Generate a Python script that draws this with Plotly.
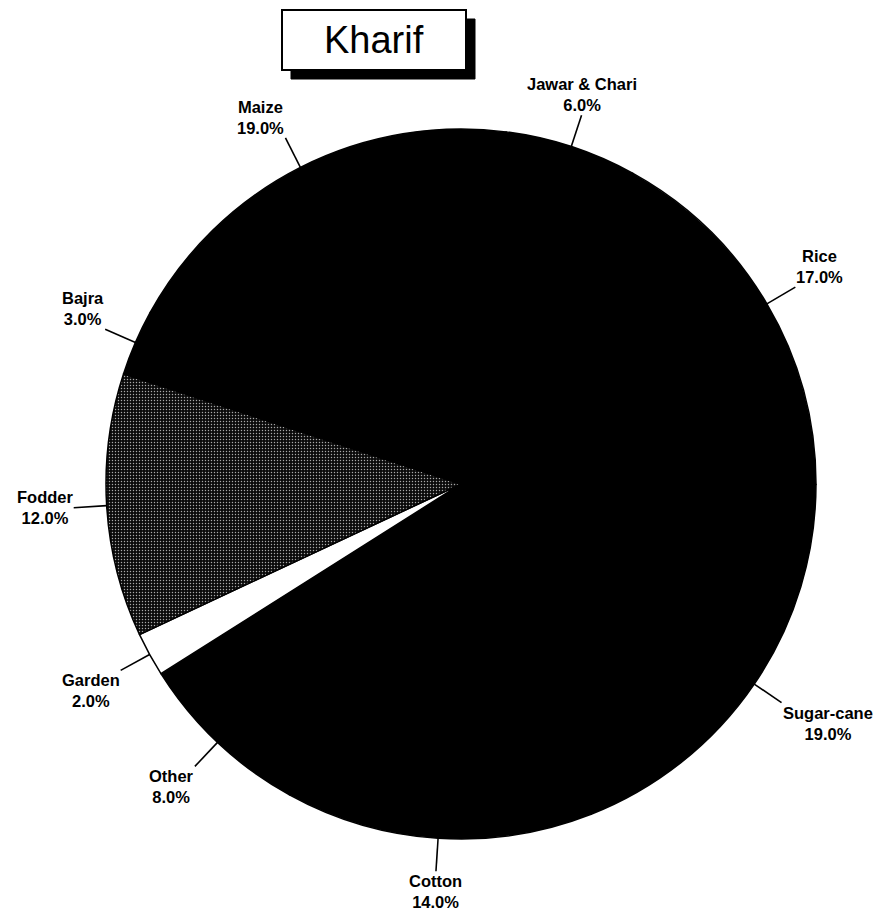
import math
import plotly.graph_objects as go

# Kharif crop area shares, listed clockwise starting just right of 12 o'clock
crops = ["Jawar & Chari", "Rice", "Sugar-cane", "Cotton", "Other",
         "Garden", "Fodder", "Bajra", "Maize"]
shares = [6, 17, 19, 14, 8, 2, 12, 3, 19]
slice_colors = ["#000000", "#000000", "#000000", "#000000", "#000000",
                "#ffffff", "#0a0a0a", "#000000", "#000000"]

W, H = 879, 919
CX, CY, R = 461, 484, 355          # pie centre and radius in pixels
ROTATION = 7.3                     # degrees clockwise from 12 o'clock
LEADER = 1.093                     # leader line outer end, as a fraction of R

fig = go.Figure()

# only the fodder slice carries a stipple fill
pat_shapes = ["." if c == "Fodder" else "" for c in crops]
pat_fg = ["#a8a8a8" if c == "Fodder" else "#000000" for c in crops]

fig.add_trace(go.Pie(
    labels=crops,
    values=shares,
    sort=False,
    direction="clockwise",
    rotation=ROTATION,
    textinfo="none",
    hoverinfo="label+percent",
    marker=dict(colors=slice_colors,
                line=dict(color="#000000", width=1.5),
                pattern=dict(shape=pat_shapes, fgcolor=pat_fg,
                             bgcolor=slice_colors,
                             size=3, solidity=0.18, fillmode="replace")),
    domain=dict(x=[(CX - R) / W, (CX + R) / W],
                y=[1 - (CY + R) / H, 1 - (CY - R) / H]),
    showlegend=False,
))


def px_to_paper(x, y):
    return x / W, 1 - y / H


# Leader lines and two-line labels placed from each slice's mid-angle
total = sum(shares)
start = ROTATION
shapes = []
annotations = []
for name, v in zip(crops, shares):
    span = v / total * 360.0
    mid = math.radians(start + span / 2)
    start += span
    s, c = math.sin(mid), math.cos(mid)
    x0, y0 = CX + R * s, CY - R * c
    x1, y1 = CX + R * LEADER * s, CY - R * LEADER * c
    p0 = px_to_paper(x0, y0)
    p1 = px_to_paper(x1, y1)
    shapes.append(dict(type="line", xref="paper", yref="paper",
                       x0=p0[0], y0=p0[1], x1=p1[0], y1=p1[1],
                       line=dict(color="#000000", width=1.6)))
    xanchor = "left" if s > 0.35 else ("right" if s < -0.35 else "center")
    yanchor = "bottom" if c > 0.3 else ("top" if c < -0.3 else "middle")
    annotations.append(dict(
        xref="paper", yref="paper", x=p1[0], y=p1[1],
        xanchor=xanchor, yanchor=yanchor, showarrow=False,
        text=f"{name}<br>{v / total * 100:.1f}%", align="center",
        font=dict(family="Liberation Sans, Arial", size=16.5, color="#000000",
                  weight="bold"),
        borderpad=0,
    ))

# Title box with a drop shadow
BX0, BY0, BX1, BY1, SH = 282, 10, 466, 70, 9
sx0, sy0 = px_to_paper(BX0 + SH, BY0 + SH)
sx1, sy1 = px_to_paper(BX1 + SH, BY1 + SH)
shapes.append(dict(type="rect", xref="paper", yref="paper",
                   x0=sx0, y0=sy0, x1=sx1, y1=sy1,
                   fillcolor="#000000", line=dict(color="#000000", width=1)))
bx0, by0 = px_to_paper(BX0, BY0)
bx1, by1 = px_to_paper(BX1, BY1)
shapes.append(dict(type="rect", xref="paper", yref="paper",
                   x0=bx0, y0=by0, x1=bx1, y1=by1,
                   fillcolor="#ffffff", line=dict(color="#000000", width=2)))
tx, ty = px_to_paper((BX0 + BX1) / 2, (BY0 + BY1) / 2)
annotations.append(dict(xref="paper", yref="paper", x=tx, y=ty,
                        xanchor="center", yanchor="middle", showarrow=False,
                        text="Kharif",
                        font=dict(family="Liberation Sans, Arial", size=38,
                                  color="#000000")))

fig.update_layout(
    width=W, height=H,
    margin=dict(l=0, r=0, t=0, b=0),
    paper_bgcolor="#ffffff",
    plot_bgcolor="#ffffff",
    shapes=shapes,
    annotations=annotations,
)

fig.write_html("out.html")
